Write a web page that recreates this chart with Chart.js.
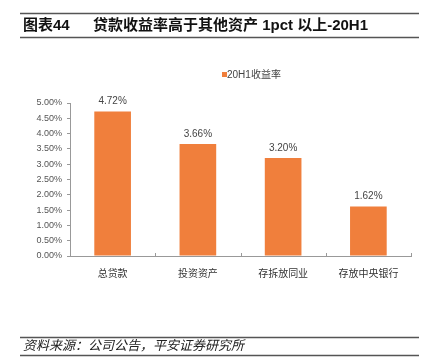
<!DOCTYPE html>
<html><head><meta charset="utf-8">
<script src="https://cdn.jsdelivr.net/npm/chart.js@4"></script>
<style>html,body{margin:0;padding:0;background:#fff}canvas{display:block}</style>
</head><body>
<div style="width:428px;height:362px"><canvas id="c" width="428" height="362"></canvas></div>
<script>
const categories = ['总贷款', '投资资产', '存拆放同业', '存放中央银行'];
const seriesName = '20H1收益率';
const values = [4.72, 3.66, 3.20, 1.62];
const yTicks = [0, 0.5, 1, 1.5, 2, 2.5, 3, 3.5, 4, 4.5, 5];
const titleLabel = '图表44';
const titleText = '贷款收益率高于其他资产 1pct 以上-20H1';
const sourceText = '资料来源：公司公告，平安证券研究所';
const barColor = '#F07F3C';
const CJK = '"Liberation Sans", Arial, "Noto Sans CJK SC", sans-serif';

const decor = {
  id: 'decor',
  afterDraw(chart) {
    const ctx = chart.ctx;
    ctx.save();
    ctx.strokeStyle = '#555';
    ctx.lineWidth = 1.5;
    [13.5, 37.5, 337.5, 355.5].forEach((y) => {
      ctx.beginPath(); ctx.moveTo(20, y); ctx.lineTo(419, y); ctx.stroke();
    });
    ctx.fillStyle = '#111';
    ctx.textBaseline = 'middle';
    ctx.textAlign = 'left';
    ctx.font = 'bold 15px ' + CJK;
    ctx.fillText(titleLabel, 23, 25.5);
    ctx.fillText(titleText, 93, 25.5);
    ctx.font = 'italic 13px ' + CJK;
    ctx.fillStyle = '#222';
    ctx.fillText(sourceText, 23, 346.5);
    // legend
    const lbl = chart.data.datasets[0].label;
    ctx.fillStyle = chart.data.datasets[0].backgroundColor;
    ctx.fillRect(222, 72, 5, 5);
    ctx.fillStyle = '#444';
    ctx.font = '10px ' + CJK;
    ctx.fillText(lbl, 227, 75.5);
    // x-axis inner ticks at category boundaries
    const xs = chart.scales.x;
    const n = chart.data.labels.length;
    ctx.strokeStyle = '#999';
    ctx.lineWidth = 1;
    for (let i = 0; i <= n; i++) {
      const x = Math.round(xs.left + i * (xs.right - xs.left) / n) + 0.5;
      ctx.beginPath(); ctx.moveTo(x, xs.top); ctx.lineTo(x, xs.top - 3); ctx.stroke();
    }
    // data labels
    const meta = chart.getDatasetMeta(0);
    ctx.fillStyle = '#444';
    ctx.font = '10px ' + CJK;
    ctx.textAlign = 'center';
    ctx.textBaseline = 'bottom';
    meta.data.forEach((bar, i) => {
      ctx.fillText(values[i].toFixed(2) + '%', bar.x, bar.y - 5);
    });
    ctx.restore();
  }
};

new Chart(document.getElementById('c'), {
  type: 'bar',
  data: {
    labels: categories,
    datasets: [{ label: seriesName, data: values, backgroundColor: barColor, categoryPercentage: 1, barPercentage: 0.43 }]
  },
  options: {
    responsive: false,
    animation: false,
    events: [],
    layout: { padding: { left: 20, right: 17, top: 103, bottom: 70 } },
    plugins: { legend: { display: false }, tooltip: { enabled: false } },
    scales: {
      x: {
        grid: { display: false, drawOnChartArea: false },
        border: { display: true, color: '#999', width: 1 },
        ticks: { padding: 4, color: '#333', font: { size: 10, family: CJK } },
        afterFit(s) { s.height = 36; }
      },
      y: {
        min: 0, max: 5,
        afterBuildTicks(s) { s.ticks = yTicks.map(v => ({ value: v })); },
        grid: { drawOnChartArea: false, tickLength: 3, color: '#999' },
        border: { display: true, color: '#999', width: 1 },
        ticks: { padding: 5, color: '#555', font: { size: 9, family: CJK }, callback: v => Number(v).toFixed(2) + '%' },
        afterFit(s) { s.width = 50; }
      }
    }
  },
  plugins: [decor]
});
</script>
</body></html>
